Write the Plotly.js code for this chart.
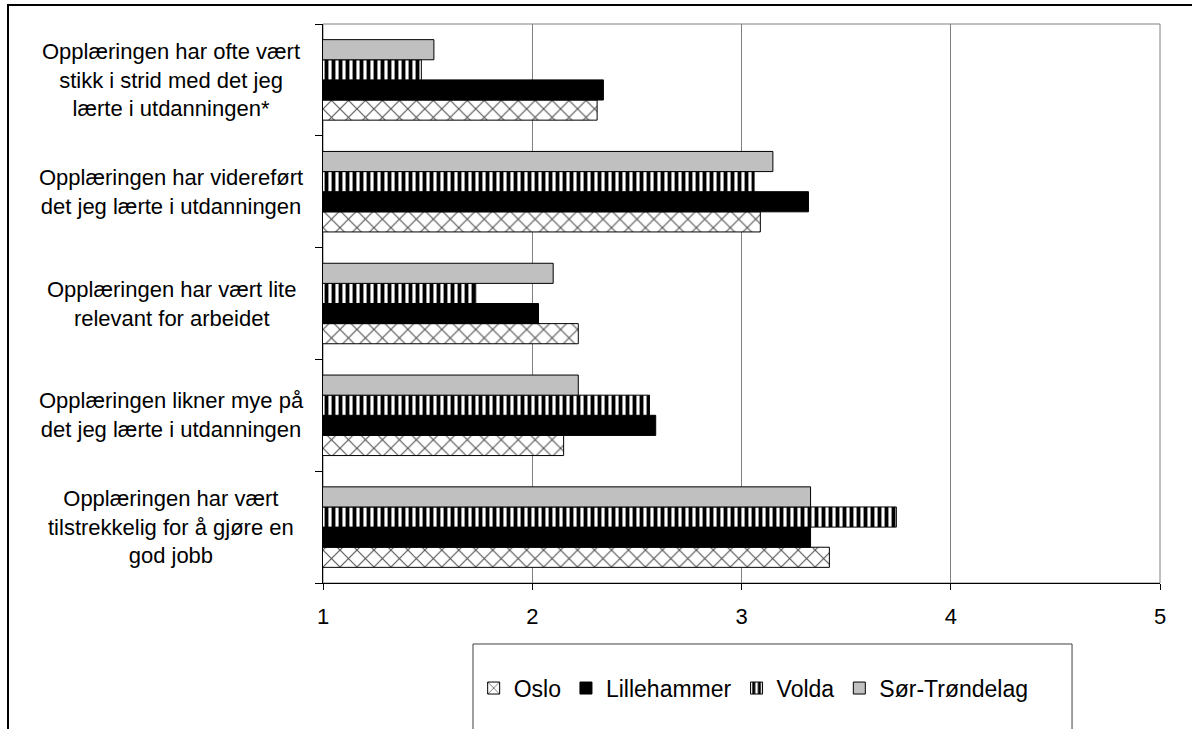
<!DOCTYPE html>
<html>
<head>
<meta charset="utf-8">
<script src="https://cdn.plot.ly/plotly-3.0.1.min.js"></script>
<style>
  html, body { margin: 0; padding: 0; background: #fff; overflow: hidden; }
  #chart { width: 1192px; height: 729px; }
  #frame { position: absolute; left: 7px; top: 4px; width: 1400px; height: 900px;
           border: 2px solid #000; pointer-events: none; }
</style>
</head>
<body>
<div id="chart"></div>
<div id="frame"></div>
<script>
// Categories listed bottom-to-top (as drawn)
const categories = [
  "Opplæringen har vært<br>tilstrekkelig for å gjøre en<br>god jobb",
  "Opplæringen likner mye på<br>det jeg lærte i utdanningen",
  "Opplæringen har vært lite<br>relevant for arbeidet",
  "Opplæringen har videreført<br>det jeg lærte i utdanningen",
  "Opplæringen har ofte vært<br>stikk i strid med det jeg<br>lærte i utdanningen*"
];
const seriesNames = ["Oslo", "Lillehammer", "Volda", "Sør-Trøndelag"];
const oslo        = [3.42, 2.15, 2.22, 3.09, 2.31];
const lillehammer = [3.33, 2.59, 2.03, 3.32, 2.34];
const volda       = [3.74, 2.56, 1.73, 3.06, 1.47];
const sorTrondelag = [3.33, 2.22, 2.10, 3.15, 1.53];
const xTicks = [1, 2, 3, 4, 5];

const FONT = "Liberation Sans, Arial, sans-serif";
const line = { color: "#000", width: 1 };

const traces = [
  { name: seriesNames[0], x: oslo, y: categories, type: "bar", orientation: "h",
    marker: { color: "#fff", line: line,
      pattern: { shape: "x", fgcolor: "#555", bgcolor: "#fff", size: 12, solidity: 0.18 } } },
  { name: seriesNames[1], x: lillehammer, y: categories, type: "bar", orientation: "h",
    marker: { color: "#000", line: line } },
  { name: seriesNames[2], x: volda, y: categories, type: "bar", orientation: "h",
    marker: { color: "#fff", line: line,
      pattern: { shape: "|", fgcolor: "#000", bgcolor: "#fff", size: 7, solidity: 0.55 } } },
  { name: seriesNames[3], x: sorTrondelag, y: categories, type: "bar", orientation: "h",
    marker: { color: "#c0c0c0", line: line } }
];

const annotations = categories.map(c => ({
  xref: "paper", yref: "y", x: 0, y: c, xshift: -152,
  xanchor: "center", yanchor: "middle", align: "center",
  text: c, showarrow: false,
  font: { family: FONT, size: 22, color: "#000" }
}));

const layout = {
  width: 1192, height: 729,
  margin: { l: 323, r: 32, t: 24, b: 146 },
  paper_bgcolor: "#fff", plot_bgcolor: "#fff",
  font: { family: FONT, size: 22, color: "#000" },
  barmode: "group", bargap: 0.28, bargroupgap: 0,
  showlegend: true,
  legend: { orientation: "h", x: 0.18, xanchor: "left", y: -0.188, yanchor: "middle",
            font: { family: FONT, size: 23, color: "#000" }, borderwidth: 0,
            bgcolor: "rgba(0,0,0,0)" },
  xaxis: { range: [1, 5], tickvals: xTicks, ticktext: xTicks.map(String),
           showgrid: true, gridcolor: "#808080", gridwidth: 1, zeroline: false,
           showline: true, linecolor: "#000", linewidth: 1,
           ticks: "outside", ticklen: 6, tickcolor: "#000", ticklabelstandoff: 8,
           tickfont: { family: FONT, size: 22, color: "#000" }, fixedrange: true },
  yaxis: { type: "category", showticklabels: false, showgrid: false, zeroline: false,
           showline: true, linecolor: "#000", linewidth: 1,
           ticks: "outside", tickson: "boundaries", ticklen: 7, tickcolor: "#000",
           fixedrange: true },
  shapes: [
    { type: "rect", xref: "paper", yref: "paper", x0: 0, x1: 1, y0: 0, y1: 1,
      line: { color: "#808080", width: 1 }, fillcolor: "rgba(0,0,0,0)", layer: "below" },
    { type: "rect", xref: "paper", yref: "paper", x0: 0.1792, x1: 0.8949, y0: -0.1091, y1: -0.40,
      line: { color: "#404040", width: 1 }, fillcolor: "rgba(0,0,0,0)" }
  ],
  annotations: annotations
};

Plotly.newPlot("chart", traces, layout, { displayModeBar: false, staticPlot: true });
</script>
</body>
</html>
